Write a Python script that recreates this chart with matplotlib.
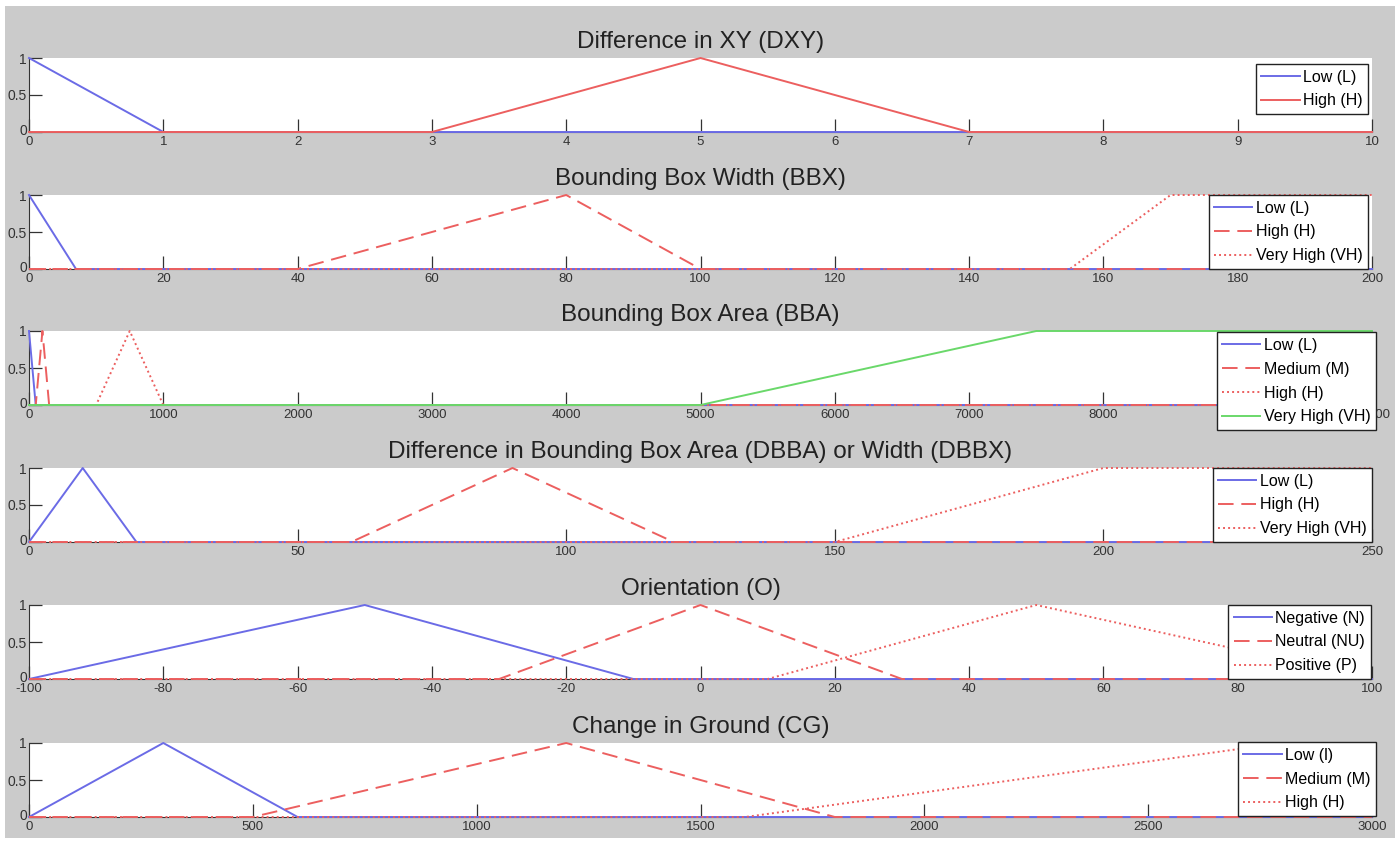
import matplotlib
matplotlib.use("Agg")
import matplotlib.pyplot as plt
from matplotlib.patches import Rectangle
from matplotlib.transforms import ScaledTranslation

plt.rcParams['font.family'] = ['Liberation Sans Narrow', 'Liberation Sans', 'DejaVu Sans']
plt.rcParams['axes.unicode_minus'] = False

## Membership functions (breakpoints)

titles = ["Difference in XY (DXY)",
          "Bounding Box Width (BBX)",
          "Bounding Box Area (BBA)",
          "Difference in Bounding Box Area (DBBA) or Width (DBBX)",
          "Orientation (O)",
          "Change in Ground (CG)"]

dxy_low_x = [0, 1, 10]
dxy_low_y = [1, 0, 0]
dxy_high_x = [0, 3, 5, 7, 10]
dxy_high_y = [0, 0, 1, 0, 0]

bbx_low_x = [0, 7, 200]
bbx_low_y = [1, 0, 0]
bbx_high_x = [0, 40, 80, 100, 200]
bbx_high_y = [0, 0, 1, 0, 0]
bbx_vhigh_x = [0, 155, 170, 200]
bbx_vhigh_y = [0, 0, 1, 1]

bba_low_x = [0, 50, 10000]
bba_low_y = [1, 0, 0]
bba_med_x = [0, 50, 100, 150, 10000]
bba_med_y = [0, 0, 1, 0, 0]
bba_high_x = [0, 500, 750, 1000, 10000]
bba_high_y = [0, 0, 1, 0, 0]
bba_vhigh_x = [0, 5000, 7500, 10000]
bba_vhigh_y = [0, 0, 1, 1]

dbba_low_x = [0, 10, 20, 250]
dbba_low_y = [0, 1, 0, 0]
dbba_high_x = [0, 60, 90, 120, 250]
dbba_high_y = [0, 0, 1, 0, 0]
dbba_vhigh_x = [0, 150, 200, 250]
dbba_vhigh_y = [0, 0, 1, 1]

o_neg_x = [-100, -50, -10, 100]
o_neg_y = [0, 1, 0, 0]
o_neu_x = [-100, -30, 0, 30, 100]
o_neu_y = [0, 0, 1, 0, 0]
o_pos_x = [-100, 10, 50, 100]
o_pos_y = [0, 0, 1, 0]

cg_low_x = [0, 300, 600, 3000]
cg_low_y = [0, 1, 0, 0]
cg_med_x = [0, 500, 1200, 1800, 3000]
cg_med_y = [0, 0, 1, 0, 0]
cg_high_x = [0, 1600, 2800, 3000]
cg_high_y = [0, 0, 1, 1]

x_ranges = [(0, 10, 1), (0, 200, 20), (0, 10000, 1000),
            (0, 250, 50), (-100, 100, 20), (0, 3000, 500)]

BLUE = '#6b6be6'
RED = '#ec5f5f'
GREEN = '#6ad86a'
SOLID = '-'
DASH = (0, (8, 4))
DOT = (0, (1, 1.6))

series = [
    [(dxy_low_x, dxy_low_y, BLUE, SOLID, "Low (L)"),
     (dxy_high_x, dxy_high_y, RED, SOLID, "High (H)")],
    [(bbx_low_x, bbx_low_y, BLUE, SOLID, "Low (L)"),
     (bbx_high_x, bbx_high_y, RED, DASH, "High (H)"),
     (bbx_vhigh_x, bbx_vhigh_y, RED, DOT, "Very High (VH)")],
    [(bba_low_x, bba_low_y, BLUE, SOLID, "Low (L)"),
     (bba_med_x, bba_med_y, RED, DASH, "Medium (M)"),
     (bba_high_x, bba_high_y, RED, DOT, "High (H)"),
     (bba_vhigh_x, bba_vhigh_y, GREEN, SOLID, "Very High (VH)")],
    [(dbba_low_x, dbba_low_y, BLUE, SOLID, "Low (L)"),
     (dbba_high_x, dbba_high_y, RED, DASH, "High (H)"),
     (dbba_vhigh_x, dbba_vhigh_y, RED, DOT, "Very High (VH)")],
    [(o_neg_x, o_neg_y, BLUE, SOLID, "Negative (N)"),
     (o_neu_x, o_neu_y, RED, DASH, "Neutral (NU)"),
     (o_pos_x, o_pos_y, RED, DOT, "Positive (P)")],
    [(cg_low_x, cg_low_y, BLUE, SOLID, "Low (l)"),
     (cg_med_x, cg_med_y, RED, DASH, "Medium (M)"),
     (cg_high_x, cg_high_y, RED, DOT, "High (H)")],
]

# axes tops in pixels, legend anchors (axes coords)
W, H = 1399, 842
ax_tops = [58, 195, 331, 468, 605, 743]
ax_h = 74
ax_left, ax_right = 29, 1372
leg_anchor = [(0.997, 0.92), (0.997, 1.0), (1.003, 0.98),
              (1.0, 1.0), (0.999, 1.0), (1.003, 1.01)]

## Plotting

fig = plt.figure(figsize=(W / 100, H / 100), dpi=100, facecolor='white')
fig.patches.append(Rectangle((5 / W, 4 / H), 1 - 9 / W, 1 - 10 / H,
                             transform=fig.transFigure, facecolor='#cbcbcb',
                             edgecolor='none', zorder=-10))
lift = ScaledTranslation(0, 2.5 / 100, fig.dpi_scale_trans)

for i in range(6):
    top = ax_tops[i]
    ax = fig.add_axes([ax_left / W, 1 - (top + ax_h) / H,
                       (ax_right - ax_left) / W, ax_h / H])
    ax.set_facecolor('white')
    for xs, ys, col, ls, lab in series[i]:
        ax.plot(xs, ys, color=col, linestyle=ls, linewidth=1.4,
                label=lab, clip_on=False, zorder=3)
    lo, hi, step = x_ranges[i]
    ax.set_xlim(lo, hi)
    ax.set_ylim(0, 1)
    ax.set_xticks(range(lo, hi + 1, step))
    ax.set_yticks([0, 0.5, 1])
    ax.set_yticklabels(["0", "0.5", "1"])
    ax.tick_params(axis='x', direction='in', length=9.5, width=0.9,
                   color='#333333', labelsize=9.5, labelcolor='#333333', pad=3)
    ax.tick_params(axis='y', direction='in', length=9.5, width=0.9,
                   color='#333333', labelsize=10, labelcolor='#333333', pad=1.5)
    zero_lab = ax.yaxis.get_major_ticks()[0].label1
    zero_lab.set_transform(zero_lab.get_transform() + lift)
    ax.spines['top'].set_visible(False)
    ax.spines['right'].set_visible(False)
    ax.spines['left'].set_color('#333333')
    ax.spines['bottom'].set_color('#333333')
    ax.set_title(titles[i], fontsize=17.5, color='#222222', pad=7)
    leg = ax.legend(loc='upper right', bbox_to_anchor=leg_anchor[i],
                    borderaxespad=0, fontsize=11.5, labelspacing=0.55,
                    handlelength=2.4, handletextpad=0.2, borderpad=0.35,
                    fancybox=False, framealpha=1, edgecolor='#222222')
    leg.get_frame().set_linewidth(1.0)

plt.savefig('out.png', dpi=100, facecolor=fig.get_facecolor())
